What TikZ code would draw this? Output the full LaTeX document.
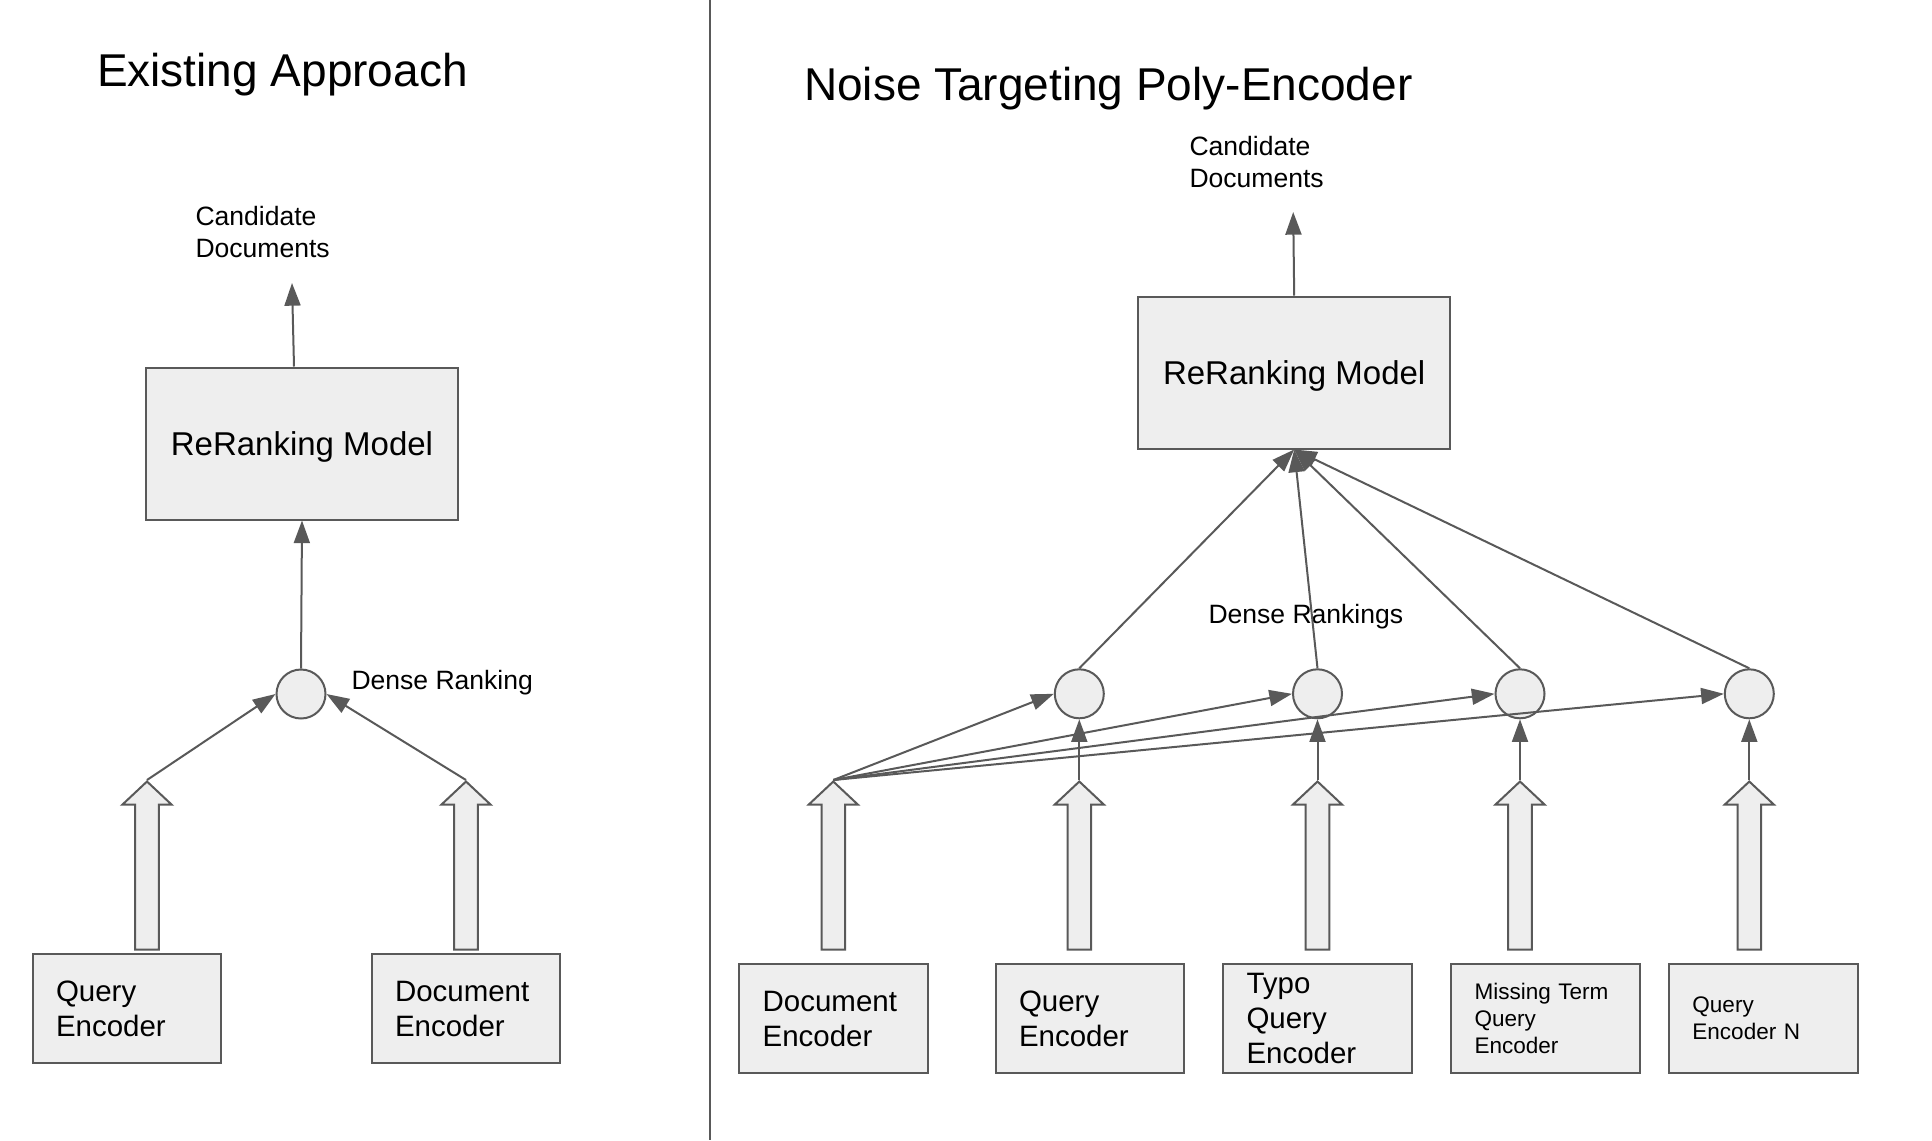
\documentclass[tikz,border=0pt]{standalone}
\usepackage{fontspec}
\setmainfont{Liberation Sans}
\usetikzlibrary{arrows.meta}

\definecolor{lineGray}{RGB}{89,89,89}
\definecolor{fillGray}{RGB}{238,238,238}

\tikzset{every picture/.style={line width=1.5pt}}
\tikzset{
  box/.style={draw=lineGray, fill=fillGray, inner sep=0pt},
  rerank/.style={box, minimum width=234pt, minimum height=114pt, text depth=0pt, font=\fontsize{24.75}{30}\selectfont},
  encbox/.style={box, minimum width=141.5pt, minimum height=81.5pt, inner xsep=17.5pt, text width=106.5pt, align=left, font=\fontsize{22.1}{26.25}\selectfont},
  encsmall/.style={encbox, font=\fontsize{16.9}{20.25}\selectfont},
  dot/.style={circle, draw=lineGray, fill=fillGray, minimum size=36.75pt, inner sep=0pt},
  conn/.style={draw=lineGray, -{Triangle[length=17pt, width=12pt]}},
  fatarrow/.style={draw=lineGray, fill=fillGray, line join=miter},
  lbl/.style={inner sep=0pt, align=left, font=\fontsize{19.9}{23.6}\selectfont},
  heading/.style={inner sep=0pt, anchor=base west, font=\fontsize{34.5}{41}\selectfont},
}

\begin{document}
\begin{tikzpicture}[x=0.75pt,y=0.75pt,yscale=-1,xscale=1]
\useasboundingbox (0,0) rectangle (1932,1140);

%Straight Lines (divider)
\draw [lineGray] (710,0) -- (710,1140) ;

% Text Node
\node (headL) [heading] at (96,86) {Existing Approach};
% Text Node
\node (headR) [heading] at (803,100) {Noise Targeting Poly-Encoder};

%Block Arrows
\foreach \x/\n in {147/tipQL, 466/tipDL, 833.3/tipDR, 1079.3/tip1, 1317.5/tip2, 1520/tip3, 1749.3/tip4} {
  \draw [fatarrow] (\x-11.8,949.5) -- (\x-11.8,804.5) -- (\x-24.5,804.5) -- (\x,781.5) -- (\x+24.5,804.5) -- (\x+11.8,804.5) -- (\x+11.8,949.5) -- cycle ;
  \coordinate (\n) at (\x,780) ;
}

%Left: existing approach
\node (rrL) [rerank] at (302,443.5) {ReRanking Model};
\node (candL) [lbl, anchor=north west] at (194.5,205.7) {Candidate\\Documents};
\coordinate (outL) at (292,283);
\node (rankL) [dot] at (301,694) {};
\node (denseL) [lbl, anchor=base west] at (350.5,689) {Dense Ranking};
\node (qencL) [encbox] at (127,1008.8) {Query\\Encoder};
\node (dencL) [encbox] at (466,1008.8) {Document\\Encoder};

%Right: poly-encoder
\node (rrR) [rerank] at (1294.2,372.5) {ReRanking Model};
\node (candR) [lbl, anchor=north west] at (1188.5,135.7) {Candidate\\Documents};
\coordinate (outR) at (1293.2,212);
\node (denseR) [lbl, anchor=base west] at (1207.5,623) {Dense Rankings};
\foreach \x [count=\i] in {1079.3,1317.5,1520,1749.3}
  \node (rank\i) [dot] at (\x,693.8) {};
\node (dencR) [encbox] at (833.7,1018.7) {Document\\Encoder};
\node (qenc1) [encbox] at (1090,1018.7) {Query\\Encoder};
\node (qenc2) [encbox] at (1317.5,1018.7) {Typo\\Query\\Encoder};
\node (qenc3) [encsmall] at (1545.5,1018.7) {Missing Term\\Query\\Encoder};
\node (qenc4) [encsmall] at (1763.4,1018.7) {Query\\Encoder N};

%Connectors
\draw [conn] ([xshift=-6pt]rrL.north) -- (outL) ;
\draw [conn] (rankL.north) -- (rrL.south) ;
\draw [conn] (tipQL) -- (rankL.west) ;
\draw [conn] (tipDL) -- (rankL.east) ;
\draw [conn] (rrR.north) -- (outR) ;
\foreach \i in {1,...,4} {
  \draw [conn] (tipDR) -- (rank\i.west) ;
  \draw [conn] (tip\i) -- (rank\i.south) ;
  \draw [conn] (rank\i.north) -- (rrR.south) ;
}

\end{tikzpicture}
\end{document}
